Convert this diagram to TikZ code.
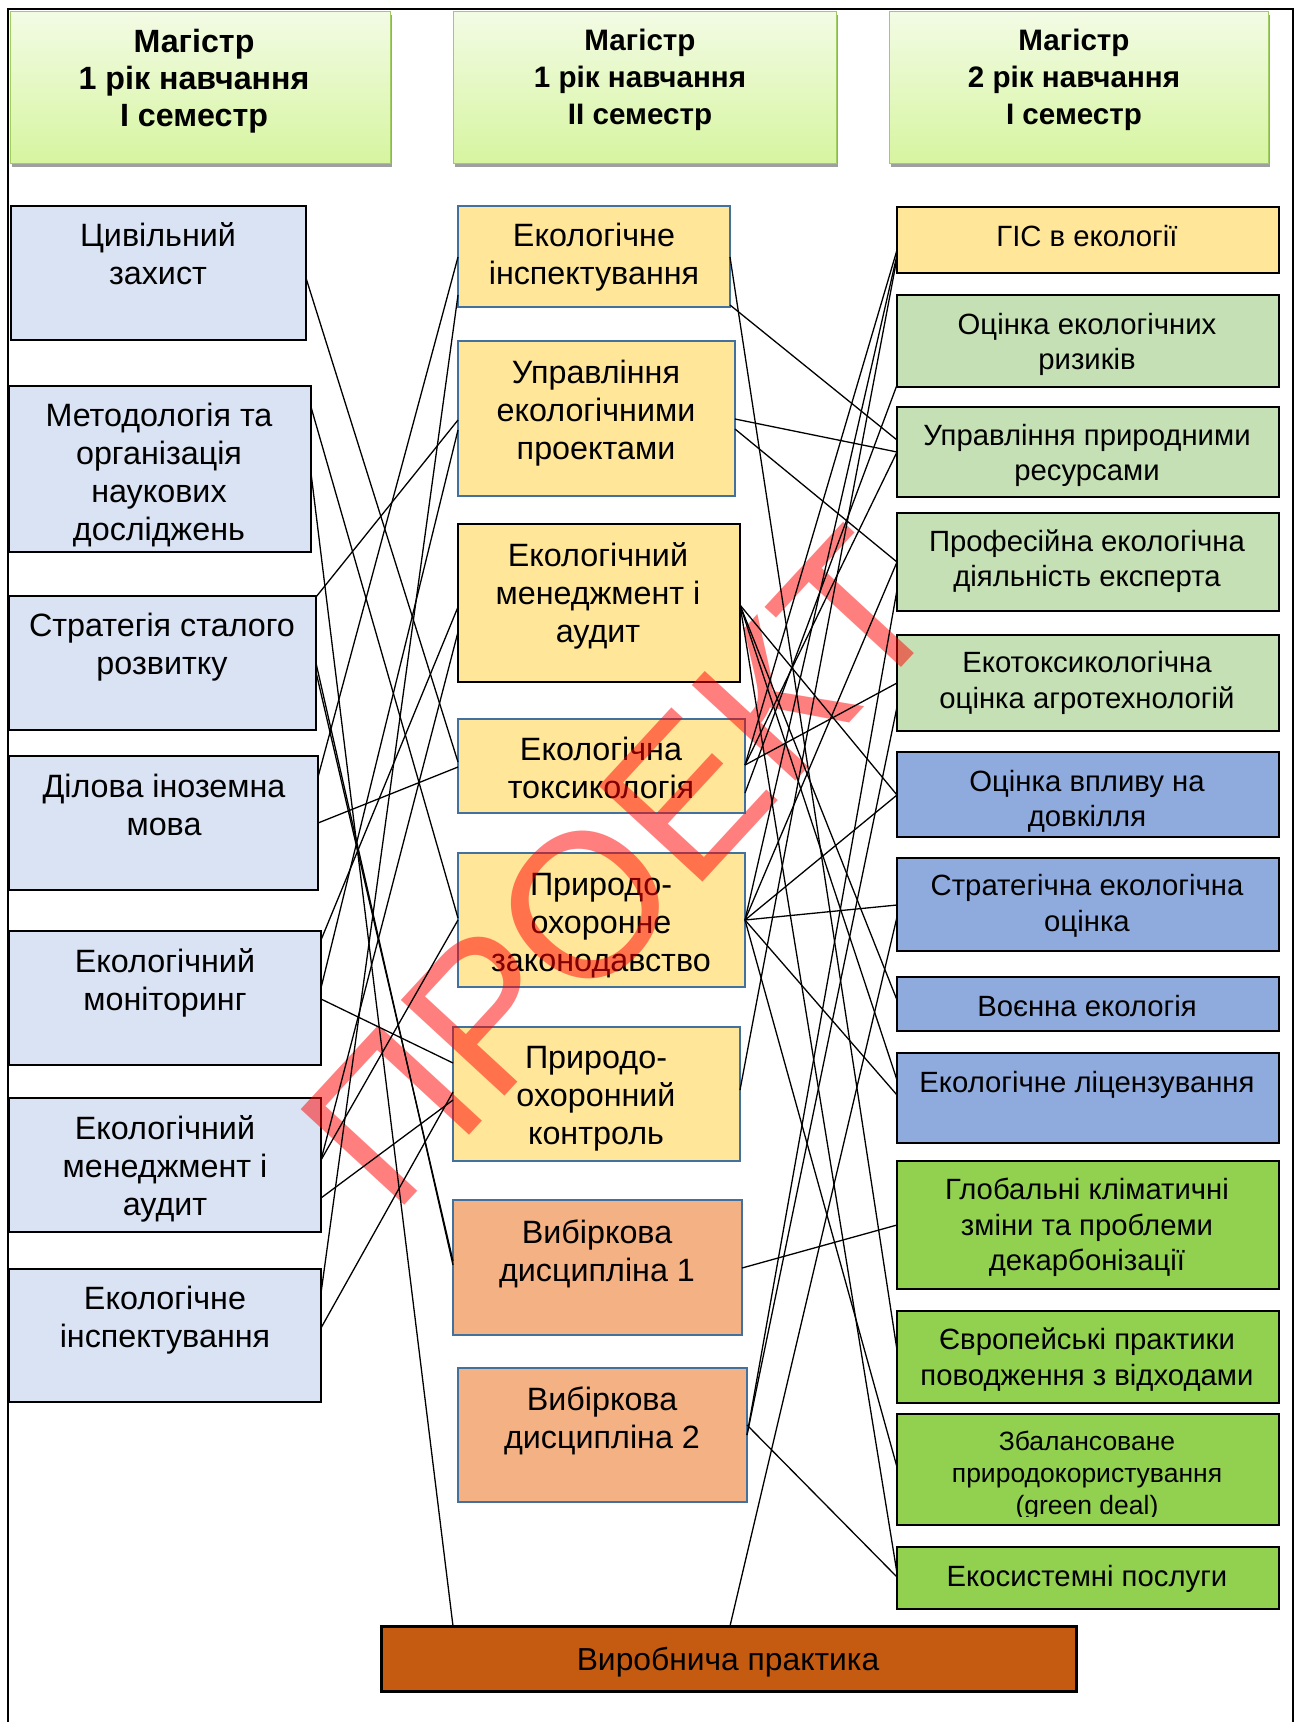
\documentclass[tikz,border=0pt]{standalone}
\usepackage{fontspec}
\setmainfont{Liberation Sans}
\usetikzlibrary{shadows}
\definecolor{lblue}{RGB}{218,227,243}
\definecolor{yel}{RGB}{255,230,153}
\definecolor{salm}{RGB}{244,177,131}
\definecolor{brn}{RGB}{197,90,17}
\definecolor{lgrn}{RGB}{197,224,180}
\definecolor{mblu}{RGB}{143,170,220}
\definecolor{grn}{RGB}{146,208,80}
\definecolor{mbord}{RGB}{65,113,156}
\definecolor{htop}{RGB}{243,251,229}
\definecolor{hbot}{RGB}{214,245,160}
\definecolor{hbord}{RGB}{160,205,95}
\newcommand\mkbox[6]{\node[#2, minimum width={#5pt-#3pt}, minimum height={#6pt-#4pt}] (#1) at ({(#3+#5)/2},{(#4+#6)/2}) {};}
\begin{document}
\begin{tikzpicture}[x=1pt,y=-1pt,
  base/.style={rectangle, inner sep=0pt, outer sep=0pt},
  hdr/.style={base, top color=htop, bottom color=hbot, draw=hbord, line width=1pt,
     drop shadow={shadow xshift=2pt, shadow yshift=-4pt, fill=gray!75, opacity=1}},
  lbox/.style={base, fill=lblue, draw=black, line width=2.6pt},
  mbox/.style={base, fill=yel, draw=mbord, line width=2.2pt},
  mboxk/.style={base, fill=yel, draw=black, line width=2.8pt},
  sbox/.style={base, fill=salm, draw=mbord, line width=2.2pt},
  vbox/.style={base, fill=brn, draw=black, line width=3pt},
  ybox/.style={base, fill=yel, draw=black, line width=2.6pt},
  gbox/.style={base, fill=lgrn, draw=black, line width=2.6pt},
  bbox/.style={base, fill=mblu, draw=black, line width=2.6pt},
  ggbox/.style={base, fill=grn, draw=black, line width=2.6pt},
  htxt/.style={align=center, inner sep=0pt, yshift=-3pt, font=\fontsize{29.6}{37}\bfseries\selectfont},
  txt/.style={align=center, inner sep=0pt, yshift=-3.5pt, font=\fontsize{32.3}{38}\selectfont},
  rtxt/.style={align=center, inner sep=0pt, yshift=-3pt, font=\fontsize{29.3}{35.5}\selectfont},
  stxt/.style={align=center, inner sep=0pt, yshift=-2pt, font=\fontsize{26.5}{32}\selectfont},
  conn/.style={draw=black, line width=1.3pt},
  wm/.style={inner sep=0pt, text=red, text opacity=0.5, font=\fontsize{205}{205}\selectfont}
]
\useasboundingbox (0,0) rectangle (1298,1722);
\fill[white] (0,0) rectangle (1298,1722);
% frame
\draw[line width=1.6pt] (8,1722) -- (8,9) -- (1293,9) -- (1293,1722);
% headers
\mkbox{H1}{hdr}{10}{11}{390}{163}
\mkbox{H2}{hdr}{453}{11}{836}{163}
\mkbox{H3}{hdr}{889}{11}{1268}{163}
\node[htxt, font=\fontsize{32.2}{37}\bfseries\selectfont] (H1t) at (194,79) {\strut Магістр\\1 рік навчання\\І семестр\strut};
\node[htxt] (H2t) at (640,77) {\strut Магістр\\1 рік навчання\\ІІ семестр\strut};
\node[htxt] (H3t) at (1074,77) {\strut Магістр\\2 рік навчання\\І семестр\strut};
% left column
\mkbox{L1}{lbox}{11}{206}{306}{340}
\mkbox{L2}{lbox}{9}{386}{311}{552}
\mkbox{L3}{lbox}{9}{596}{316}{730}
\mkbox{L4}{lbox}{9}{756}{318}{890}
\mkbox{L5}{lbox}{9}{931}{321}{1065}
\mkbox{L6}{lbox}{9}{1098}{321}{1232}
\mkbox{L7}{lbox}{9}{1269}{321}{1402}
\node[txt] (L1t) at (158,254.5) {\strut Цивільний\\захист\strut};
\node[txt] (L2t) at (159,472) {\strut Методологія та\\організація\\наукових\\досліджень\strut};
\node[txt] (L3t) at (162,644.5) {\strut Стратегія сталого\\розвитку\strut};
\node[txt] (L4t) at (164,805) {\strut Ділова іноземна\\мова\strut};
\node[txt] (L5t) at (165,980) {\strut Екологічний\\моніторинг\strut};
\node[txt] (L6t) at (165,1166.7) {\strut Екологічний\\менеджмент і\\аудит\strut};
\node[txt] (L7t) at (165,1317.5) {\strut Екологічне\\інспектування\strut};
% middle column
\mkbox{M1}{mbox}{458}{206}{730}{307}
\mkbox{M2}{mbox}{458}{341}{735}{496}
\mkbox{M3}{mboxk}{458}{524}{740}{682}
\mkbox{M4}{mbox}{458}{719}{745}{813}
\mkbox{M5}{mbox}{458}{853}{745}{987}
\mkbox{M6}{mbox}{453}{1027}{740}{1161}
\mkbox{M7}{sbox}{453}{1200}{742}{1335}
\mkbox{M8}{sbox}{458}{1368}{747}{1502}
\mkbox{Vyr}{vbox}{381}{1626}{1076}{1691}
\node[txt] (M1t) at (594,254.5) {\strut Екологічне\\інспектування\strut};
\node[txt] (M2t) at (596,410.7) {\strut Управління\\екологічними\\проектами\strut};
\node[txt] (M3t) at (598,593.7) {\strut Екологічний\\менеджмент і\\аудит\strut};
\node[txt] (M4t) at (601,768) {\strut Екологічна\\токсикологія\strut};
\node[txt] (M5t) at (601,922) {\strut Природо-\\охоронне\\законодавство\strut};
\node[txt] (M6t) at (596,1095) {\strut Природо-\\охоронний\\контроль\strut};
\node[txt] (M7t) at (597,1251) {\strut Вибіркова\\дисципліна 1\strut};
\node[txt] (M8t) at (602,1418) {\strut Вибіркова\\дисципліна 2\strut};
\node[txt, font=\fontsize{31.8}{38}\selectfont] (Vyrt) at (728,1659) {\strut Виробнича практика\strut};
% right column
\mkbox{R1}{ybox}{897}{207}{1279}{273}
\mkbox{R2}{gbox}{897}{295}{1279}{387}
\mkbox{R3}{gbox}{897}{407}{1279}{497}
\mkbox{R4}{gbox}{897}{513}{1279}{611}
\mkbox{R5}{gbox}{897}{635}{1279}{731}
\mkbox{R6}{bbox}{897}{752}{1279}{837}
\mkbox{R7}{bbox}{897}{858}{1279}{951}
\mkbox{R8}{bbox}{897}{977}{1279}{1031}
\mkbox{R9}{bbox}{897}{1053}{1279}{1143}
\mkbox{R10}{ggbox}{897}{1161}{1279}{1289}
\mkbox{R11}{ggbox}{897}{1311}{1279}{1403}
\mkbox{R12}{ggbox}{897}{1414}{1279}{1525}
\mkbox{R13}{ggbox}{897}{1547}{1279}{1609}
\node[rtxt] (R1t) at (1087,236) {\strut ГІС в екології\strut};
\node[rtxt] (R2t) at (1087,342) {\strut Оцінка екологічних\\ризиків\strut};
\node[rtxt] (R3t) at (1087,453) {\strut Управління природними\\ресурсами\strut};
\node[rtxt] (R4t) at (1087,559) {\strut Професійна екологічна\\діяльність експерта\strut};
\node[rtxt] (R5t) at (1087,680.5) {\strut Екотоксикологічна\\оцінка агротехнологій\strut};
\node[rtxt] (R6t) at (1087,799) {\strut Оцінка впливу на\\довкілля\strut};
\node[rtxt] (R7t) at (1087,903.5) {\strut Стратегічна екологічна\\оцінка\strut};
\node[rtxt] (R8t) at (1087,1006) {\strut Воєнна екологія\strut};
\node[rtxt] (R9t) at (1087,1082) {\strut Екологічне ліцензування\strut};
\node[rtxt] (R10t) at (1087,1225) {\strut Глобальні кліматичні\\зміни та проблеми\\декарбонізації\strut};
\node[rtxt] (R11t) at (1087,1357.5) {\strut Європейські практики\\поводження з відходами\strut};
\begin{scope}
\clip ([yshift=9pt]R12.south west) rectangle (R12.north east);
\node[stxt] (R12t) at (1087,1474) {\strut Збалансоване\\природокористування\\(green deal)\strut};
\end{scope}
\node[rtxt] (R13t) at (1087,1576) {\strut Екосистемні послуги\strut};
% watermark
\node[wm, rotate=47.3] (WM) at (620,868) {ПРОЕКТ};
% connectors: left gap
\draw[conn] (L1.east |- 0,278) -- (M4.west |- 0,762);
\draw[conn] (L2.east |- 0,407) -- (M5.west |- 0,918);
\draw[conn] (L2.east |- 0,473) -- (Vyr.north -| 453,0);
\draw[conn] (L3.east |- 0,597) -- (M2.west |- 0,420);
\draw[conn] (L3.east |- 0,663) -- (M7.west |- 0,1265);
\draw[conn] (L3.east |- 0,672) -- (M7.west |- 0,1261);
\draw[conn] (L4.east |- 0,777) -- (M1.west |- 0,257);
\draw[conn] (L4.east |- 0,823) -- (M4.west |- 0,767);
\draw[conn] (L5.east |- 0,940) -- (M3.west |- 0,607);
\draw[conn] (L5.east |- 0,988) -- (M2.west |- 0,430);
\draw[conn] (L5.east |- 0,999) -- (M6.west |- 0,1063);
\draw[conn] (L6.east |- 0,1160) -- (M5.west |- 0,920);
\draw[conn] (L6.east |- 0,1160) -- (M3.west |- 0,632);
\draw[conn] (L6.east |- 0,1198) -- (M6.west |- 0,1100);
\draw[conn] (L7.east |- 0,1293) -- (M1.west |- 0,295);
\draw[conn] (L7.east |- 0,1328) -- (M6.west |- 0,1092);
% connectors: right gap
\draw[conn] (M1.east |- 0,257) -- (R11.west |- 0,1350);
\draw[conn] (M1.east |- 0,305) -- (R3.west |- 0,440);
\draw[conn] (M2.east |- 0,419) -- (R3.west |- 0,452);
\draw[conn] (M2.east |- 0,429) -- (R4.west |- 0,562);
\draw[conn] (R1.west |- 0,250) -- (M4.east |- 0,765);
\draw[conn] (R1.west |- 0,255) -- (M5.east |- 0,920);
\draw[conn] (R1.west |- 0,258) -- (M6.east |- 0,1090);
\draw[conn] (R2.west |- 0,385) -- (M4.east |- 0,793);
\draw[conn] (R3.west |- 0,452) -- (M4.east |- 0,765);
\draw[conn] (R4.west |- 0,562) -- (M5.east |- 0,920);
\draw[conn] (M4.east |- 0,765) -- (R5.west |- 0,683);
\draw[conn] (M5.east |- 0,920) -- (R6.west |- 0,795);
\draw[conn] (M5.east |- 0,920) -- (R7.west |- 0,905);
\draw[conn] (M5.east |- 0,920) -- (R9.west |- 0,1095);
\draw[conn] (M5.east |- 0,920) -- (R12.west |- 0,1467);
\draw[conn] (M3.east |- 0,605) -- (R6.west |- 0,795);
\draw[conn] (M3.east |- 0,605) -- (R8.west |- 0,1000);
\draw[conn] (M3.east |- 0,605) -- (R9.west |- 0,1080);
\draw[conn] (M3.east |- 0,605) -- (R13.west |- 0,1573);
\draw[conn] (M7.east |- 0,1268) -- (R10.west |- 0,1225);
\draw[conn] (M8.east |- 0,1425) -- (R13.west |- 0,1577);
\draw[conn] (M8.east |- 0,1435) -- (R5.west |- 0,707);
\draw[conn] (M8.east |- 0,1435) -- (R4.west |- 0,590);
\draw[conn] (Vyr.north -| 730,0) -- (R7.west |- 0,917);
\end{tikzpicture}
\end{document}
